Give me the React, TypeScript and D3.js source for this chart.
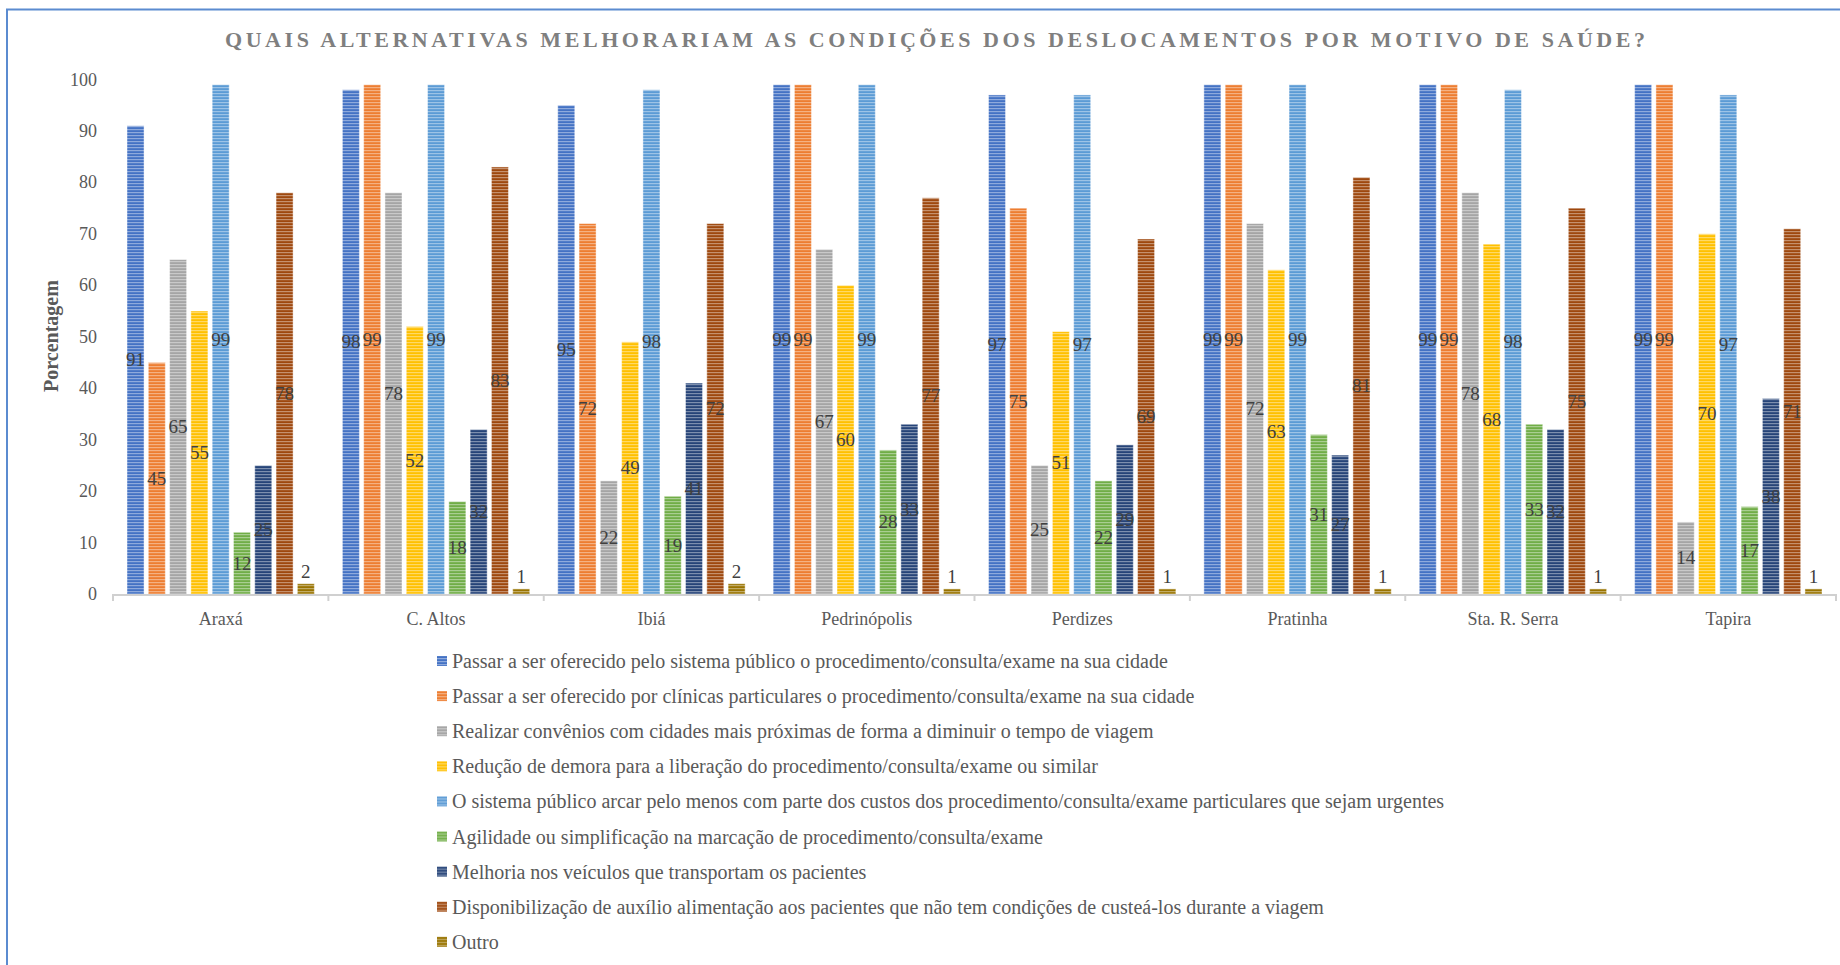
import React from "react";
import * as d3 from "d3";

// cities on the x axis
const categories = [
  "Araxá",
  "C. Altos",
  "Ibiá",
  "Pedrinópolis",
  "Perdizes",
  "Pratinha",
  "Sta. R. Serra",
  "Tapira",
];

const seriesNames = [
  "Passar a ser oferecido pelo sistema público o procedimento/consulta/exame na sua cidade",
  "Passar a ser oferecido por clínicas particulares o procedimento/consulta/exame na sua cidade",
  "Realizar convênios com cidades mais próximas de forma a diminuir o tempo de viagem",
  "Redução de demora para a liberação do procedimento/consulta/exame ou similar",
  "O sistema público arcar pelo menos com parte dos custos dos procedimento/consulta/exame particulares que sejam urgentes",
  "Agilidade ou simplificação na marcação de procedimento/consulta/exame",
  "Melhoria nos veículos que transportam os pacientes",
  "Disponibilização de auxílio alimentação aos pacientes que não tem condições de custeá-los durante a viagem",
  "Outro",
];

const seriesColors = [
  "#4472C4",
  "#ED7D31",
  "#A5A5A5",
  "#FFC000",
  "#5B9BD5",
  "#70AD47",
  "#264478",
  "#9E480E",
  "#997300",
];

// one array per series, in category order
const publico = [91, 98, 95, 99, 97, 99, 99, 99];
const clinicas = [45, 99, 72, 99, 75, 99, 99, 99];
const convenios = [65, 78, 22, 67, 25, 72, 78, 14];
const reducao = [55, 52, 49, 60, 51, 63, 68, 70];
const arcar = [99, 99, 98, 99, 97, 99, 98, 97];
const agilidade = [12, 18, 19, 28, 22, 31, 33, 17];
const veiculos = [25, 32, 41, 33, 29, 27, 32, 38];
const alimentacao = [78, 83, 72, 77, 69, 81, 75, 71];
const outro = [2, 1, 2, 1, 1, 1, 1, 1];

const seriesValues = [
  publico,
  clinicas,
  convenios,
  reducao,
  arcar,
  agilidade,
  veiculos,
  alimentacao,
  outro,
];

const yTicks = [0, 10, 20, 30, 40, 50, 60, 70, 80, 90, 100];

const title =
  "QUAIS ALTERNATIVAS MELHORARIAM AS CONDIÇÕES DOS DESLOCAMENTOS POR MOTIVO DE SAÚDE?";

const W = 1840,
  H = 965;
const FONT = "'Liberation Serif', 'Times New Roman', serif";
const TEXT_GRAY = "#595959";

export default function App() {
  const plot = { left: 113, right: 1836, top: 79.5, bottom: 594 };

  const x0 = d3
    .scaleBand<string>()
    .domain(categories)
    .range([plot.left, plot.right]);
  const x1 = d3
    .scaleBand<number>()
    .domain(d3.range(seriesNames.length))
    .range([14, x0.bandwidth() - 14])
    .paddingInner(0.2);
  const y = d3.scaleLinear().domain([0, 100]).range([plot.bottom, plot.top]);

  const legendY = d3
    .scaleLinear()
    .domain([0, 1])
    .range([661, 661 + 35.1]);

  return (
    <svg
      width={W}
      height={H}
      style={{ position: "absolute", left: 0, top: 0, display: "block" }}
      fontFamily={FONT}
    >
      <defs>
        {seriesColors.map((c, i) => (
          <pattern
            key={i}
            id={`stripe-${i}`}
            patternUnits="userSpaceOnUse"
            width={6}
            height={3}
          >
            <rect width={6} height={3} fill={c} />
            <rect y={0} width={6} height={1.2} fill="#ffffff" opacity={0.4} />
          </pattern>
        ))}
      </defs>
      <rect width={W} height={H} fill="#ffffff" />
      {/* chart frame */}
      <rect
        x={7}
        y={9.5}
        width={W + 20}
        height={H + 20}
        fill="none"
        stroke="#5b8bd0"
        strokeWidth={2}
      />

      <text
        x={225}
        y={47}
        fontSize={22}
        fontWeight="bold"
        fill="#7f7f7f"
        textLength={1420}
        lengthAdjust="spacing"
      >
        {title}
      </text>

      {/* y axis labels */}
      {yTicks.map((t) => (
        <text
          key={t}
          x={97}
          y={y(t)}
          textAnchor="end"
          dominantBaseline="central"
          fontSize={18}
          fill={TEXT_GRAY}
        >
          {t}
        </text>
      ))}
      <text
        transform={`translate(51, 336) rotate(-90)`}
        textAnchor="middle"
        dominantBaseline="central"
        fontSize={20}
        fontWeight="bold"
        fill={TEXT_GRAY}
      >
        Porcentagem
      </text>

      {/* bars */}
      {categories.map((cat, ci) => (
        <g key={cat} transform={`translate(${x0(cat)}, 0)`}>
          {seriesValues.map((vals, si) => {
            const v = vals[ci];
            const bx = x1(si) as number;
            const bw = x1.bandwidth();
            return (
              <g key={si}>
                <rect
                  x={bx}
                  y={y(v)}
                  width={bw}
                  height={y(0) - y(v)}
                  fill={`url(#stripe-${si})`}
                  stroke="#ffffff"
                  strokeOpacity={0.45}
                  strokeWidth={1}
                />
                <text
                  x={bx + bw / 2}
                  y={si === seriesValues.length - 1 ? y(v) - 12 : y(v / 2)}
                  textAnchor="middle"
                  dominantBaseline="central"
                  fontSize={19}
                  fill="#404040"
                >
                  {v}
                </text>
              </g>
            );
          })}
        </g>
      ))}

      {/* x axis */}
      <line
        x1={plot.left}
        x2={plot.right}
        y1={plot.bottom + 1}
        y2={plot.bottom + 1}
        stroke="#d0d0d0"
        strokeWidth={2}
      />
      {categories.concat([""]).map((c, i) => {
        const xx = i < categories.length ? (x0(c) as number) : plot.right;
        return (
          <line
            key={i}
            x1={xx}
            x2={xx}
            y1={plot.bottom}
            y2={plot.bottom + 7}
            stroke="#d0d0d0"
            strokeWidth={2}
          />
        );
      })}
      {categories.map((c) => (
        <text
          key={c}
          x={(x0(c) as number) + x0.bandwidth() / 2}
          y={625}
          textAnchor="middle"
          fontSize={18}
          fill={TEXT_GRAY}
        >
          {c}
        </text>
      ))}

      {/* legend */}
      {seriesNames.map((name, i) => (
        <g key={i} transform={`translate(437, ${legendY(i)})`}>
          <rect x={0} y={-5} width={10} height={10} fill={`url(#stripe-${i})`} />
          <text x={15} y={0} dominantBaseline="central" fontSize={20} fill={TEXT_GRAY}>
            {name}
          </text>
        </g>
      ))}
    </svg>
  );
}
